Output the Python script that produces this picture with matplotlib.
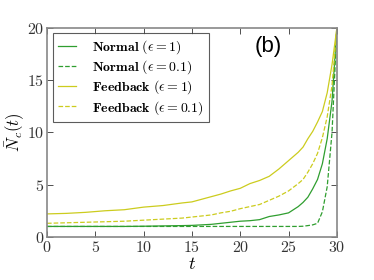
import matplotlib
matplotlib.use("Agg")
import matplotlib.pyplot as plt

plt.rcParams['font.family'] = 'serif'
plt.rcParams['font.serif'] = ['cmr10', 'DejaVu Serif']
plt.rcParams['mathtext.fontset'] = 'cm'
plt.rcParams['axes.formatter.use_mathtext'] = True

t = [0, 2, 4, 6, 8, 10, 12, 14, 15, 16, 17, 18, 19, 20, 21, 22, 23, 24, 25, 26, 26.5, 27, 27.5, 28, 28.5, 29, 29.5, 30]
feedback_1 = [2.2, 2.25, 2.35, 2.5, 2.6, 2.85, 3.0, 3.25, 3.35, 3.6, 3.85, 4.1, 4.4, 4.65, 5.1, 5.4, 5.8, 6.5, 7.3, 8.1, 8.6, 9.4, 10.1, 11.0, 12.0, 13.8, 16.5, 20.0]
feedback_01 = [1.3, 1.35, 1.4, 1.45, 1.5, 1.6, 1.7, 1.8, 1.9, 2.0, 2.1, 2.3, 2.45, 2.7, 2.9, 3.1, 3.5, 3.9, 4.4, 5.1, 5.5, 6.2, 7.0, 8.0, 9.5, 11.5, 14.5, 20.0]
normal_1 = [1.0, 1.0, 1.0, 1.0, 1.0, 1.02, 1.05, 1.08, 1.1, 1.15, 1.2, 1.3, 1.4, 1.5, 1.55, 1.65, 1.95, 2.1, 2.3, 2.9, 3.3, 3.8, 4.6, 5.5, 7.0, 9.4, 13.0, 20.0]
normal_01 = [1.0, 1.0, 1.0, 1.0, 1.0, 1.0, 1.0, 1.0, 1.0, 1.0, 1.0, 1.0, 1.0, 1.0, 1.0, 1.0, 1.0, 1.0, 1.0, 1.0, 1.02, 1.08, 1.15, 1.3, 2.4, 4.8, 10.0, 20.0]

green = '#2f9e2f'
yellow = '#cccc1e'

fig = plt.figure(figsize=(3.74, 2.8), dpi=100)
ax = fig.add_axes([0.1257, 0.154, 0.775, 0.746])

ax.plot(t, normal_1, color=green, lw=0.9, label=r'$\mathbf{Normal}\ (\epsilon = 1)$')
ax.plot(t, normal_01, color=green, lw=0.9, ls='--', label=r'$\mathbf{Normal}\ (\epsilon = 0.1)$')
ax.plot(t, feedback_1, color=yellow, lw=0.9, label=r'$\mathbf{Feedback}\ (\epsilon = 1)$')
ax.plot(t, feedback_01, color=yellow, lw=0.9, ls='--', label=r'$\mathbf{Feedback}\ (\epsilon = 0.1)$')

ax.set_xlim(0, 30)
ax.set_ylim(0, 20)
ax.set_xticks([0, 5, 10, 15, 20, 25, 30])
ax.set_yticks([0, 5, 10, 15, 20])
ax.tick_params(direction='in', top=True, right=True, labelsize=11.5, colors='#333333',
               length=4, width=0.6, pad=2)
for s in ax.spines.values():
    s.set_color('#888888')
    s.set_linewidth(1.2)

ax.set_xlabel(r'$t$', fontsize=13, labelpad=1)
ax.set_ylabel(r'$\bar{N}_c(t)$', fontsize=12, labelpad=0)

leg = ax.legend(loc='upper left', fontsize=10, fancybox=False, frameon=True,
                handlelength=1.25, handletextpad=1.2, borderpad=0.35, labelspacing=0.18,
                borderaxespad=0, bbox_to_anchor=(0.022, 0.975))
leg.get_frame().set_edgecolor('#333333')
leg.get_frame().set_linewidth(0.8)

ax.text(0.765, 0.91, '(b)', transform=ax.transAxes, fontsize=16,
        family='Liberation Sans', ha='center', va='center')

fig.savefig('out.png', dpi=100)
